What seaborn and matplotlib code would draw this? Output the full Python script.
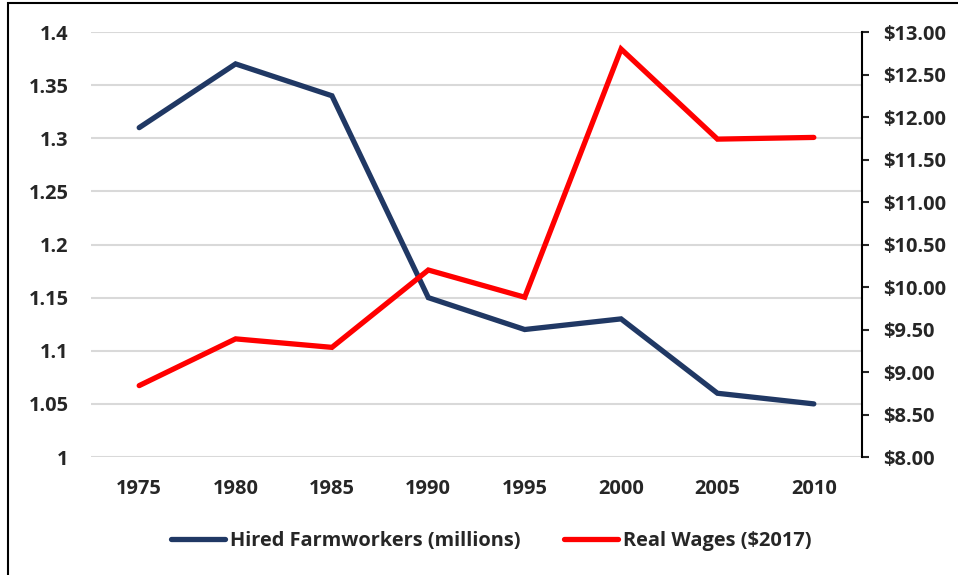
import pandas as pd
import matplotlib
matplotlib.use('Agg')
import matplotlib.pyplot as plt
import matplotlib.ticker as mticker
from matplotlib.patches import Rectangle
import seaborn as sns

# Data
years = ['1975', '1980', '1985', '1990', '1995', '2000', '2005', '2010']
farmworkers = [1.31, 1.37, 1.34, 1.15, 1.12, 1.13, 1.06, 1.05]
real_wages = [8.84, 9.39, 9.29, 10.20, 9.88, 12.80, 11.74, 11.76]

df = pd.DataFrame({'Year': years, 'Workers': farmworkers, 'Wages': real_wages})
df['pos'] = range(len(years))

sns.set_style('white')
plt.rcParams['font.family'] = ['Open Sans', 'DejaVu Sans']
plt.rcParams['font.weight'] = 'bold'

fig = plt.figure(figsize=(9.58, 5.75), dpi=100)
ax = fig.add_axes([0.095, 0.2052, 0.8048, 0.7391])
ax2 = ax.twinx()

navy = '#203864'
red = '#FF0000'
fs = 14.4

sns.lineplot(data=df, x='pos', y='Workers', ax=ax, color=navy, linewidth=3.8,
             label='Hired Farmworkers (millions)', legend=False)
sns.lineplot(data=df, x='pos', y='Wages', ax=ax2, color=red, linewidth=3.8,
             label='Real Wages ($2017)', legend=False)
for line in ax.lines + ax2.lines:
    line.set_solid_capstyle('round')
    line.set_solid_joinstyle('miter')

ax.set_xlim(-0.5, len(years) - 0.5)
ax.set_ylim(1.0, 1.4)
ax.set_yticks([1.0, 1.05, 1.1, 1.15, 1.2, 1.25, 1.3, 1.35, 1.4])
ax.set_yticklabels(['1', '1.05', '1.1', '1.15', '1.2', '1.25', '1.3', '1.35', '1.4'])
ax.set_xticks(df['pos'])
ax.set_xticklabels(years)
ax.set_xlabel('')
ax.set_ylabel('')
ax.grid(axis='y', color='#D9D9D9', linewidth=1.5)
ax.set_axisbelow(True)
ax.tick_params(axis='y', length=0, labelsize=fs, pad=16)
ax.tick_params(axis='x', length=0, labelsize=fs, pad=16)

ax2.set_ylim(8, 13)
ax2.set_yticks([8 + 0.5 * i for i in range(11)])
ax2.yaxis.set_major_formatter(mticker.FuncFormatter(lambda v, p: f'${v:,.2f}'))
ax2.set_ylabel('')
ax2.tick_params(axis='y', direction='out', length=5, width=1.5, labelsize=fs, pad=10)

for a in (ax, ax2):
    for s in ('top', 'left', 'bottom'):
        a.spines[s].set_visible(False)
ax.spines['right'].set_visible(False)
ax2.spines['right'].set_visible(True)
ax2.spines['right'].set_color('black')
ax2.spines['right'].set_linewidth(1.5)

for t in ax.get_xticklabels() + ax.get_yticklabels() + ax2.get_yticklabels():
    t.set_fontweight('bold')

handles = ax.lines[:1] + ax2.lines[:1]
labels = ['Hired Farmworkers (millions)', 'Real Wages ($2017)']
fig.legend(handles, labels, loc='center', bbox_to_anchor=(0.513, 0.059), ncol=2,
           frameon=False, prop={'weight': 'bold', 'size': fs},
           handlelength=2.7, columnspacing=2.2, handletextpad=0.25)

# outer frame like the reference screenshot
fig.patches.append(Rectangle((8 / 958, -0.01), 1.0, 1 - 3 / 575 + 0.01,
                             transform=fig.transFigure, fill=False,
                             edgecolor='black', linewidth=1.5))

fig.savefig('out.png', dpi=100)
